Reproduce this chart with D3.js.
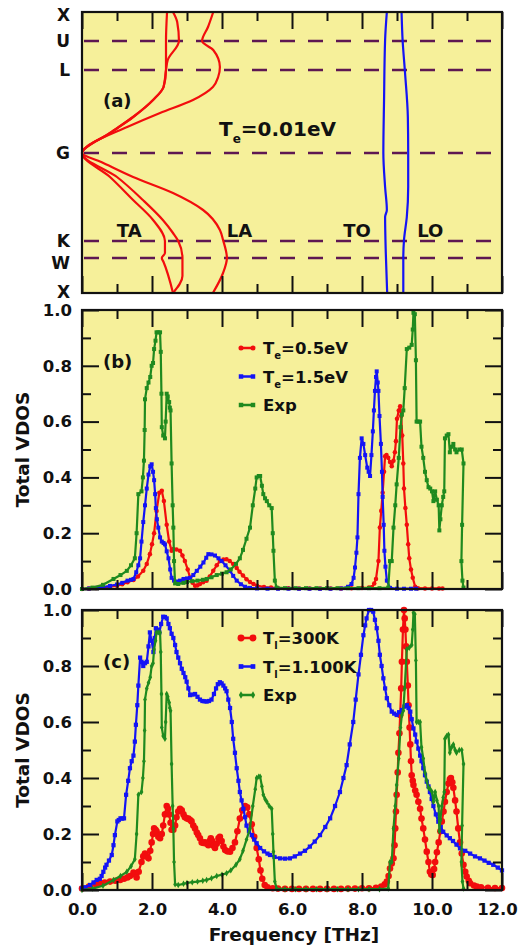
<!DOCTYPE html>
<html>
<head>
<meta charset="utf-8">
<script src="https://cdn.jsdelivr.net/npm/d3@7"></script>
<style>
  body { margin: 0; background: #fff; }
  text { font-family: "DejaVu Sans", sans-serif; font-weight: bold; fill: #111; }
  .tick line { stroke: #111; stroke-width: 2; }
  .tick text { font-size: 16.5px; }
</style>
</head>
<body>
<svg id="chart" width="519" height="947"></svg>
<script>
// ---- panel (a): dispersion along X-U-L-G-K-W-X ----
let kLabels = ["X", "U", "L", "G", "K", "W", "X"];
let kPos = [0, 0.29, 0.58, 1.41, 2.29, 2.46, 2.81];

let branchTA1 = [[0, 2.43], [0.29, 2.4], [0.58, 2.4], [0.75, 2.33], [0.88, 2.03], [1.05, 1.46], [1.21, 0.8], [1.41, 0],
  [1.65, 0.8], [1.88, 1.46], [2.08, 2.03], [2.29, 2.37], [2.41, 2.37], [2.46, 2.28], [2.5, 2.33], [2.81, 2.6]];
let branchTA2 = [[0, 2.6], [0.1, 2.72], [0.29, 2.77], [0.48, 2.45], [0.58, 2.4], [0.75, 2.33], [0.88, 2.03], [1.05, 1.46], [1.21, 0.8], [1.41, 0],
  [1.65, 1.0], [1.88, 1.74], [2.08, 2.31], [2.21, 2.6], [2.29, 2.75], [2.46, 2.87], [2.64, 2.87], [2.81, 2.6]];
let branchLA = [[0, 3.75], [0.15, 3.6], [0.29, 3.43], [0.38, 3.75], [0.55, 3.94], [0.65, 3.89], [0.75, 3.74], [0.88, 3.17],
  [1.01, 2.23], [1.15, 1.29], [1.31, 0.31], [1.41, 0], [1.5, 0.55], [1.65, 1.46], [1.81, 2.6], [1.98, 3.46], [2.18, 3.94],
  [2.28, 4.03], [2.46, 4.14], [2.61, 4.03], [2.81, 3.74]];
let branchTO = [[0, 8.71], [0.28, 8.66], [0.88, 8.63], [1.41, 8.61], [1.75, 8.66], [1.98, 8.71], [2.05, 8.66], [2.41, 8.68], [2.81, 8.72]];
let branchLO = [[0, 9.13], [0.28, 9.16], [0.61, 9.23], [1.05, 9.31], [1.41, 9.32], [1.75, 9.32], [2.05, 9.28], [2.28, 9.2], [2.46, 9.18], [2.81, 9.18]];

// ---- panel (b) and (c): VDOS [frequency THz, value] ----
let redB = [[0, 0], [0.2, 0.002], [0.4, 0.004], [0.6, 0.006], [0.8, 0.008], [1.0, 0.012], [1.15, 0.017], [1.3, 0.024], [1.47, 0.032],
  [1.6, 0.045], [1.75, 0.065], [1.85, 0.09], [1.94, 0.125], [2.0, 0.16], [2.06, 0.2], [2.13, 0.28], [2.21, 0.345], [2.28, 0.352],
  [2.34, 0.315], [2.42, 0.23], [2.49, 0.17], [2.56, 0.137], [2.61, 0.143], [2.7, 0.142], [2.8, 0.137], [2.87, 0.12], [2.94, 0.1],
  [3.02, 0.07], [3.09, 0.04], [3.16, 0.022], [3.23, 0.012], [3.3, 0.013], [3.37, 0.018], [3.46, 0.024], [3.56, 0.03], [3.65, 0.045],
  [3.75, 0.065], [3.85, 0.085], [3.94, 0.1], [4.04, 0.106], [4.13, 0.107], [4.22, 0.1], [4.32, 0.09], [4.42, 0.075], [4.5, 0.062],
  [4.6, 0.048], [4.7, 0.035], [4.8, 0.025], [4.9, 0.018], [5.0, 0.012], [5.2, 0.007], [5.4, 0.005], [5.6, 0.003], [5.9, 0.003],
  [6.2, 0.002], [6.5, 0.002], [6.8, 0.002], [7.1, 0.002], [7.4, 0.002], [7.7, 0.003], [8.0, 0.004], [8.2, 0.005], [8.28, 0.006],
  [8.35, 0.02], [8.4, 0.036], [8.47, 0.1], [8.51, 0.22], [8.55, 0.28], [8.59, 0.345], [8.63, 0.42], [8.66, 0.476], [8.7, 0.48],
  [8.75, 0.47], [8.8, 0.455], [8.85, 0.44], [8.9, 0.46], [8.94, 0.49], [8.97, 0.53], [9.0, 0.61], [9.05, 0.64], [9.09, 0.655],
  [9.12, 0.62], [9.15, 0.55], [9.18, 0.45], [9.2, 0.36], [9.24, 0.29], [9.28, 0.23], [9.32, 0.16], [9.35, 0.11], [9.4, 0.07],
  [9.45, 0.04], [9.52, 0.008], [9.6, 0.003], [9.8, 0.002], [10.0, 0.002], [10.2, 0.002], [10.3, 0.002]];

let blueB = [[0, 0], [0.2, 0.002], [0.4, 0.004], [0.6, 0.007], [0.8, 0.011], [1.0, 0.016], [1.15, 0.022], [1.3, 0.03], [1.4, 0.033],
  [1.47, 0.036], [1.55, 0.06], [1.61, 0.085], [1.66, 0.11], [1.7, 0.17], [1.75, 0.24], [1.8, 0.3], [1.85, 0.36], [1.9, 0.41],
  [1.95, 0.44], [1.99, 0.447], [2.03, 0.42], [2.06, 0.39], [2.09, 0.34], [2.11, 0.29], [2.14, 0.25], [2.18, 0.22], [2.23, 0.185],
  [2.28, 0.17], [2.33, 0.165], [2.37, 0.16], [2.42, 0.135], [2.47, 0.11], [2.52, 0.07], [2.56, 0.04], [2.63, 0.03], [2.7, 0.027],
  [2.8, 0.03], [2.9, 0.036], [3.0, 0.038], [3.09, 0.04], [3.18, 0.05], [3.28, 0.065], [3.38, 0.08], [3.47, 0.095], [3.55, 0.112],
  [3.61, 0.125], [3.7, 0.124], [3.8, 0.12], [3.9, 0.11], [3.99, 0.1], [4.1, 0.085], [4.23, 0.065], [4.32, 0.047], [4.42, 0.03],
  [4.54, 0.017], [4.66, 0.008], [4.8, 0.004], [5.0, 0.002], [5.3, 0.001], [5.6, 0.001], [5.9, 0.001], [6.2, 0.001], [6.5, 0.001],
  [6.8, 0.001], [7.1, 0.001], [7.4, 0.002], [7.6, 0.008], [7.7, 0.018], [7.76, 0.04], [7.8, 0.077], [7.84, 0.13], [7.87, 0.185],
  [7.9, 0.34], [7.94, 0.47], [7.99, 0.54], [8.04, 0.52], [8.09, 0.48], [8.15, 0.435], [8.19, 0.42], [8.23, 0.405], [8.27, 0.48],
  [8.31, 0.565], [8.34, 0.64], [8.37, 0.71], [8.4, 0.76], [8.42, 0.78], [8.45, 0.74], [8.47, 0.71], [8.5, 0.62], [8.54, 0.52],
  [8.57, 0.42], [8.59, 0.33], [8.62, 0.23], [8.64, 0.137], [8.67, 0.08], [8.71, 0.03], [8.8, 0.004], [9.0, 0.001], [9.2, 0.001],
  [9.4, 0.001], [9.55, 0.001]];

// experiment, same curve in (b) and (c)
let expData = [[0, 0], [0.3, 0.005], [0.6, 0.015], [0.9, 0.036], [1.1, 0.05], [1.28, 0.065], [1.4, 0.085], [1.51, 0.11], [1.56, 0.2],
  [1.61, 0.34], [1.7, 0.35], [1.74, 0.4], [1.77, 0.46], [1.79, 0.57], [1.8, 0.68], [1.85, 0.72], [1.9, 0.74], [1.95, 0.76],
  [1.99, 0.8], [2.03, 0.81], [2.06, 0.86], [2.1, 0.89], [2.13, 0.92], [2.18, 0.92], [2.23, 0.92], [2.25, 0.85], [2.27, 0.7],
  [2.28, 0.58], [2.32, 0.55], [2.37, 0.54], [2.39, 0.6], [2.42, 0.7], [2.45, 0.69], [2.49, 0.67], [2.51, 0.65], [2.53, 0.64],
  [2.56, 0.45], [2.59, 0.3], [2.61, 0.22], [2.63, 0.1], [2.66, 0.02], [2.75, 0.018], [2.9, 0.022], [3.0, 0.025], [3.15, 0.028],
  [3.3, 0.03], [3.45, 0.033], [3.56, 0.036], [3.7, 0.042], [3.85, 0.05], [4.0, 0.055], [4.13, 0.06], [4.25, 0.07], [4.4, 0.09],
  [4.51, 0.11], [4.6, 0.14], [4.7, 0.18], [4.8, 0.22], [4.88, 0.3], [4.95, 0.36], [4.99, 0.4], [5.05, 0.405], [5.09, 0.405],
  [5.14, 0.37], [5.18, 0.34], [5.23, 0.325], [5.28, 0.315], [5.35, 0.3], [5.42, 0.29], [5.45, 0.2], [5.47, 0.137], [5.51, 0.03],
  [5.56, 0.005], [5.8, 0.003], [6.1, 0.003], [6.4, 0.003], [6.7, 0.003], [7.0, 0.003], [7.3, 0.003], [7.6, 0.003], [7.9, 0.003],
  [8.2, 0.003], [8.5, 0.003], [8.75, 0.005], [8.8, 0.1], [8.85, 0.1], [8.9, 0.22], [8.95, 0.3], [8.99, 0.375], [9.05, 0.47],
  [9.1, 0.58], [9.14, 0.625], [9.18, 0.64], [9.22, 0.72], [9.28, 0.86], [9.35, 0.865], [9.42, 0.875], [9.45, 0.93], [9.47, 0.99],
  [9.51, 0.985], [9.54, 0.82], [9.56, 0.6], [9.61, 0.6], [9.66, 0.6], [9.7, 0.51], [9.75, 0.47], [9.8, 0.42], [9.85, 0.39],
  [9.9, 0.365], [9.95, 0.36], [10.0, 0.35], [10.04, 0.315], [10.09, 0.35], [10.14, 0.32], [10.19, 0.3], [10.21, 0.21],
  [10.24, 0.25], [10.28, 0.3], [10.32, 0.33], [10.35, 0.35], [10.37, 0.54], [10.42, 0.55], [10.47, 0.555], [10.51, 0.49],
  [10.56, 0.51], [10.61, 0.52], [10.66, 0.5], [10.7, 0.49], [10.78, 0.5], [10.85, 0.5], [10.9, 0.45], [10.86, 0.23],
  [10.84, 0.1], [10.87, 0.03], [10.9, 0.005]];

let redC = [[0, 0.005], [0.2, 0.012], [0.4, 0.02], [0.51, 0.024], [0.65, 0.027], [0.8, 0.03], [0.95, 0.033], [1.09, 0.036], [1.2, 0.04],
  [1.3, 0.045], [1.37, 0.05], [1.47, 0.062], [1.52, 0.055], [1.56, 0.045], [1.62, 0.065], [1.7, 0.1], [1.75, 0.12], [1.8, 0.13],
  [1.85, 0.12], [1.9, 0.113], [1.95, 0.14], [1.99, 0.17], [2.03, 0.2], [2.06, 0.22], [2.1, 0.215], [2.13, 0.21], [2.18, 0.19],
  [2.23, 0.185], [2.28, 0.2], [2.32, 0.23], [2.37, 0.27], [2.42, 0.3], [2.46, 0.29], [2.49, 0.27], [2.53, 0.24], [2.56, 0.215],
  [2.61, 0.215], [2.66, 0.23], [2.7, 0.26], [2.75, 0.28], [2.8, 0.29], [2.85, 0.285], [2.9, 0.27], [2.94, 0.26], [3.0, 0.255],
  [3.04, 0.255], [3.09, 0.25], [3.13, 0.245], [3.18, 0.23], [3.23, 0.22], [3.28, 0.205], [3.32, 0.196], [3.37, 0.185], [3.42, 0.17],
  [3.47, 0.168], [3.51, 0.17], [3.56, 0.165], [3.61, 0.16], [3.65, 0.175], [3.68, 0.185], [3.72, 0.175], [3.76, 0.158], [3.8, 0.15],
  [3.85, 0.165], [3.9, 0.185], [3.94, 0.19], [3.99, 0.175], [4.04, 0.155], [4.09, 0.143], [4.15, 0.138], [4.23, 0.137], [4.3, 0.15],
  [4.37, 0.17], [4.44, 0.21], [4.51, 0.255], [4.58, 0.285], [4.66, 0.3], [4.72, 0.295], [4.78, 0.27], [4.85, 0.235], [4.92, 0.19],
  [4.99, 0.15], [5.05, 0.11], [5.1, 0.07], [5.15, 0.04], [5.22, 0.018], [5.3, 0.01], [5.45, 0.006], [5.6, 0.005], [5.8, 0.004],
  [6.0, 0.004], [6.2, 0.004], [6.4, 0.004], [6.6, 0.004], [6.8, 0.004], [7.0, 0.004], [7.2, 0.004], [7.4, 0.004], [7.6, 0.005],
  [7.8, 0.005], [8.0, 0.006], [8.2, 0.006], [8.4, 0.008], [8.55, 0.012], [8.65, 0.02], [8.71, 0.03], [8.76, 0.05], [8.8, 0.077],
  [8.85, 0.095], [8.9, 0.113], [8.93, 0.16], [8.95, 0.22], [8.97, 0.28], [8.99, 0.34], [9.02, 0.42], [9.04, 0.49], [9.07, 0.56],
  [9.09, 0.625], [9.12, 0.72], [9.14, 0.815], [9.17, 0.93], [9.2, 1.0], [9.22, 0.97], [9.24, 0.93], [9.26, 0.87], [9.28, 0.815],
  [9.31, 0.73], [9.33, 0.66], [9.36, 0.58], [9.38, 0.52], [9.4, 0.46], [9.42, 0.41], [9.45, 0.39], [9.47, 0.375], [9.52, 0.355],
  [9.56, 0.34], [9.61, 0.315], [9.66, 0.29], [9.7, 0.255], [9.75, 0.22], [9.8, 0.18], [9.85, 0.137], [9.9, 0.1], [9.94, 0.065],
  [9.98, 0.055], [10.02, 0.054], [10.06, 0.075], [10.09, 0.1], [10.14, 0.135], [10.19, 0.17], [10.24, 0.21], [10.28, 0.245],
  [10.33, 0.28], [10.37, 0.315], [10.42, 0.35], [10.47, 0.38], [10.51, 0.395], [10.54, 0.4], [10.58, 0.385], [10.61, 0.365],
  [10.66, 0.32], [10.7, 0.28], [10.75, 0.22], [10.8, 0.17], [10.85, 0.13], [10.9, 0.09], [10.95, 0.065], [10.99, 0.048],
  [11.05, 0.033], [11.09, 0.024], [11.2, 0.016], [11.28, 0.012], [11.4, 0.01], [11.6, 0.008], [11.8, 0.007], [12.0, 0.007]];

let blueC = [[0, 0.006], [0.1, 0.01], [0.23, 0.018], [0.33, 0.027], [0.42, 0.036], [0.51, 0.04], [0.56, 0.05], [0.61, 0.065],
  [0.66, 0.08], [0.7, 0.09], [0.77, 0.105], [0.85, 0.125], [0.9, 0.16], [0.94, 0.196], [1.01, 0.245], [1.05, 0.25], [1.1, 0.256],
  [1.15, 0.255], [1.2, 0.256], [1.26, 0.34], [1.32, 0.39], [1.37, 0.435], [1.42, 0.46], [1.47, 0.48], [1.51, 0.53], [1.54, 0.59],
  [1.58, 0.66], [1.61, 0.73], [1.66, 0.83], [1.7, 0.815], [1.75, 0.8], [1.8, 0.81], [1.85, 0.815], [1.9, 0.87], [1.94, 0.92],
  [1.99, 0.89], [2.04, 0.85], [2.08, 0.9], [2.11, 0.935], [2.16, 0.93], [2.21, 0.92], [2.26, 0.95], [2.32, 0.976], [2.37, 0.975],
  [2.42, 0.97], [2.47, 0.95], [2.51, 0.935], [2.56, 0.915], [2.61, 0.9], [2.66, 0.875], [2.7, 0.85], [2.75, 0.83], [2.8, 0.81],
  [2.85, 0.79], [2.9, 0.775], [2.95, 0.76], [2.99, 0.744], [3.04, 0.72], [3.09, 0.696], [3.16, 0.698], [3.23, 0.7], [3.3, 0.69],
  [3.37, 0.68], [3.44, 0.675], [3.5, 0.674], [3.56, 0.673], [3.63, 0.675], [3.7, 0.68], [3.77, 0.7], [3.83, 0.72], [3.88, 0.735],
  [3.94, 0.742], [3.99, 0.738], [4.04, 0.73], [4.09, 0.72], [4.13, 0.71], [4.18, 0.68], [4.23, 0.65], [4.28, 0.6], [4.32, 0.54],
  [4.37, 0.49], [4.42, 0.435], [4.47, 0.39], [4.51, 0.35], [4.56, 0.32], [4.61, 0.29], [4.66, 0.26], [4.7, 0.23], [4.77, 0.21],
  [4.85, 0.196], [4.92, 0.18], [4.99, 0.167], [5.09, 0.15], [5.2, 0.138], [5.3, 0.13], [5.37, 0.125], [5.5, 0.118], [5.66, 0.113],
  [5.8, 0.112], [5.94, 0.113], [6.08, 0.12], [6.23, 0.13], [6.37, 0.14], [6.51, 0.155], [6.65, 0.173], [6.8, 0.196], [6.95, 0.225],
  [7.09, 0.256], [7.23, 0.3], [7.37, 0.35], [7.47, 0.4], [7.56, 0.446], [7.65, 0.52], [7.75, 0.6], [7.82, 0.68], [7.9, 0.77],
  [7.97, 0.84], [8.04, 0.91], [8.09, 0.945], [8.13, 0.97], [8.2, 1.0], [8.26, 1.0], [8.32, 0.994], [8.37, 0.965], [8.42, 0.935],
  [8.47, 0.89], [8.51, 0.84], [8.56, 0.8], [8.61, 0.756], [8.66, 0.72], [8.71, 0.685], [8.78, 0.66], [8.85, 0.637], [8.92, 0.63],
  [8.99, 0.625], [9.06, 0.635], [9.14, 0.643], [9.21, 0.655], [9.28, 0.66], [9.33, 0.65], [9.38, 0.637], [9.42, 0.61],
  [9.47, 0.577], [9.52, 0.555], [9.56, 0.53], [9.61, 0.505], [9.66, 0.48], [9.7, 0.46], [9.75, 0.435], [9.8, 0.41], [9.85, 0.387],
  [9.9, 0.37], [9.94, 0.35], [9.99, 0.325], [10.04, 0.3], [10.11, 0.27], [10.18, 0.244], [10.25, 0.225], [10.32, 0.208],
  [10.42, 0.195], [10.51, 0.185], [10.6, 0.175], [10.7, 0.162], [10.8, 0.149], [10.95, 0.14], [11.09, 0.13], [11.23, 0.12],
  [11.37, 0.113], [11.5, 0.105], [11.62, 0.097], [11.75, 0.09], [11.88, 0.08], [12.0, 0.07]];

let majorFreq = [0, 2, 4, 6, 8, 10, 12];
let minorFreq = [1, 3, 5, 7, 9, 11];
let majorVdos = [0, 0.2, 0.4, 0.6, 0.8, 1.0];
let minorVdos = [0.1, 0.3, 0.5, 0.7, 0.9];

let red = "#f20d0d", blue = "#1414f5", green = "#1f8a1f", bg = "#f6f09a";

let svg = d3.select("#chart");
let left = 82, right = 502;

let x = d3.scaleLinear().domain([0, 12]).range([left, right]);

// draw the inward ticks on all four sides of a panel
function ticks(g, y, top, bottom, withY, withXLabels) {
  let fmt = d => d.toFixed(1);
  let xAxis = g.append("g").attr("transform", `translate(0,${bottom})`)
    .call(d3.axisBottom(x).tickValues(majorFreq).tickSize(-17).tickSizeOuter(0).tickPadding(13)
      .tickFormat(withXLabels ? fmt : ""));
  // last label sits at the page edge, nudge it in
  xAxis.selectAll(".tick text").filter(d => d === 12).attr("dx", -5);
  g.append("g").attr("transform", `translate(0,${bottom})`)
    .call(d3.axisBottom(x).tickValues(minorFreq).tickSize(-9).tickSizeOuter(0).tickFormat(""));
  g.append("g").attr("transform", `translate(0,${top})`)
    .call(d3.axisTop(x).tickValues(majorFreq).tickSize(-17).tickSizeOuter(0).tickFormat(""));
  g.append("g").attr("transform", `translate(0,${top})`)
    .call(d3.axisTop(x).tickValues(minorFreq).tickSize(-9).tickSizeOuter(0).tickFormat(""));
  if (withY) {
    g.append("g").attr("transform", `translate(${left},0)`)
      .call(d3.axisLeft(y).tickValues(majorVdos).tickSize(-17).tickSizeOuter(0).tickPadding(10).tickFormat(fmt));
    g.append("g").attr("transform", `translate(${left},0)`)
      .call(d3.axisLeft(y).tickValues(minorVdos).tickSize(-9).tickSizeOuter(0).tickFormat(""));
    g.append("g").attr("transform", `translate(${right},0)`)
      .call(d3.axisRight(y).tickValues(majorVdos).tickSize(-17).tickSizeOuter(0).tickFormat(""));
    g.append("g").attr("transform", `translate(${right},0)`)
      .call(d3.axisRight(y).tickValues(minorVdos).tickSize(-9).tickSizeOuter(0).tickFormat(""));
  }
  g.selectAll(".domain").remove();
  g.selectAll("g").attr("font-size", null).attr("font-family", null);
}

function frame(top, bottom) {
  svg.append("rect").attr("x", left).attr("y", top).attr("width", right - left).attr("height", bottom - top)
    .attr("fill", "none").attr("stroke", "#111").attr("stroke-width", 2.2);
}

function background(top, bottom) {
  svg.append("rect").attr("x", left).attr("y", top).attr("width", right - left).attr("height", bottom - top)
    .attr("fill", bg);
}

// ================= panel (a) =================
let aTop = 12, aBottom = 293;
let yK = d3.scaleLinear().domain([0, 2.81]).range([aTop, aBottom]);
background(aTop, aBottom);

let gA = svg.append("g");
// high-symmetry dashed lines
gA.selectAll("line.sym")
  .data(kPos.slice(1, -1))
  .enter().append("line")
  .attr("class", "sym")
  .attr("x1", left + 2).attr("x2", right)
  .attr("y1", d => yK(d)).attr("y2", d => yK(d))
  .attr("stroke", "#5e1752").attr("stroke-width", 2.4)
  .attr("stroke-dasharray", "15,13");

let branchLine = d3.line()
  .x(d => x(d[1]))
  .y(d => yK(d[0]))
  .curve(d3.curveMonotoneY);

[[branchTA1, red], [branchTA2, red], [branchLA, red], [branchTO, blue], [branchLO, blue]].forEach(function(b) {
  gA.append("path")
    .attr("d", branchLine(b[0]))
    .attr("fill", "none")
    .attr("stroke", b[1])
    .attr("stroke-width", 2.2);
});

ticks(svg.append("g"), null, aTop, aBottom, false, false);
frame(aTop, aBottom);

// k-point labels
svg.append("g").selectAll("text")
  .data(kLabels)
  .enter().append("text")
  .attr("x", 70)
  .attr("y", (d, i) => yK(kPos[i]))
  .attr("dy", (d, i) => i === 0 ? "0.55em" : (i === 5 ? "0.62em" : (i === 6 ? "0.28em" : "0.38em")))
  .attr("text-anchor", "end")
  .style("font-size", "17px")
  .text(d => d);

svg.append("text").attr("x", 103).attr("y", 107).style("font-size", "18px").text("(a)");

let teA = svg.append("text").attr("x", 219).attr("y", 136).style("font-size", "20px");
teA.append("tspan").text("T");
teA.append("tspan").attr("dy", 7).style("font-size", "12px").text("e");
teA.append("tspan").attr("dy", -7).text("=0.01eV");

[["TA", 1.35], ["LA", 4.5], ["TO", 7.86], ["LO", 9.95]].forEach(function(m) {
  svg.append("text")
    .attr("x", x(m[1])).attr("y", 237)
    .attr("text-anchor", "middle")
    .style("font-size", "18px")
    .text(m[0]);
});

// ================= panels (b) and (c) =================
function vdosPanel(top, bottom, series, label, legendY) {
  let y = d3.scaleLinear().domain([0, 1]).range([bottom, top]);
  background(top, bottom);

  let line = d3.line().x(d => x(d[0])).y(d => y(d[1]));
  let g = svg.append("g");

  series.forEach(function(s) {
    g.append("path")
      .attr("d", line(s.data))
      .attr("fill", "none")
      .attr("stroke", s.color)
      .attr("stroke-width", 2.2)
      .attr("stroke-linejoin", "round");
    g.append("g").selectAll("path")
      .data(s.data)
      .enter().append("path")
      .attr("transform", d => `translate(${x(d[0])},${y(d[1])})`)
      .attr("d", d3.symbol().type(s.symbol).size(s.size))
      .attr("fill", s.color);
  });

  ticks(svg.append("g"), y, top, bottom, true, label === "(c)");
  frame(top, bottom);

  svg.append("text").attr("x", 103).attr("y", top + 58).style("font-size", "18px").text(label);

  // legend
  series.forEach(function(s, i) {
    let ly = legendY + i * 28.5;
    svg.append("line")
      .attr("x1", 241).attr("x2", 253).attr("y1", ly).attr("y2", ly)
      .attr("stroke", s.color).attr("stroke-width", 2.5);
    [241, 253].forEach(function(px) {
      svg.append("path")
        .attr("transform", `translate(${px},${ly})`)
        .attr("d", d3.symbol().type(s.symbol).size(s.size + 4))
        .attr("fill", s.color);
    });
    let t = svg.append("text").attr("x", 263).attr("y", ly + 6).style("font-size", "16.5px");
    if (s.sub) {
      t.append("tspan").text("T");
      t.append("tspan").attr("dy", 5).style("font-size", "10px").text(s.sub);
      t.append("tspan").attr("dy", -5).text(s.rest);
    } else {
      t.text(s.rest);
    }
  });

  svg.append("text")
    .attr("transform", `translate(29,${(top + bottom) / 2}) rotate(-90)`)
    .attr("text-anchor", "middle")
    .style("font-size", "18.5px")
    .text("Total VDOS");
}

vdosPanel(310, 589, [
  { data: redB, color: red, symbol: d3.symbolCircle, size: 16, sub: "e", rest: "=0.5eV" },
  { data: blueB, color: blue, symbol: d3.symbolSquare, size: 16, sub: "e", rest: "=1.5eV" },
  { data: expData, color: green, symbol: d3.symbolSquare, size: 16, sub: null, rest: "Exp" }
], "(b)", 348);

vdosPanel(610, 890, [
  { data: redC, color: red, symbol: d3.symbolCircle, size: 34, sub: "l", rest: "=300K" },
  { data: blueC, color: blue, symbol: d3.symbolSquare, size: 18, sub: "l", rest: "=1.100K" },
  { data: expData, color: green, symbol: d3.symbolDiamond, size: 12, sub: null, rest: "Exp" }
], "(c)", 638);

svg.append("text")
  .attr("x", (left + right) / 2 + 2).attr("y", 941)
  .attr("text-anchor", "middle")
  .style("font-size", "18.5px")
  .text("Frequency [THz]");
</script>
</body>
</html>
